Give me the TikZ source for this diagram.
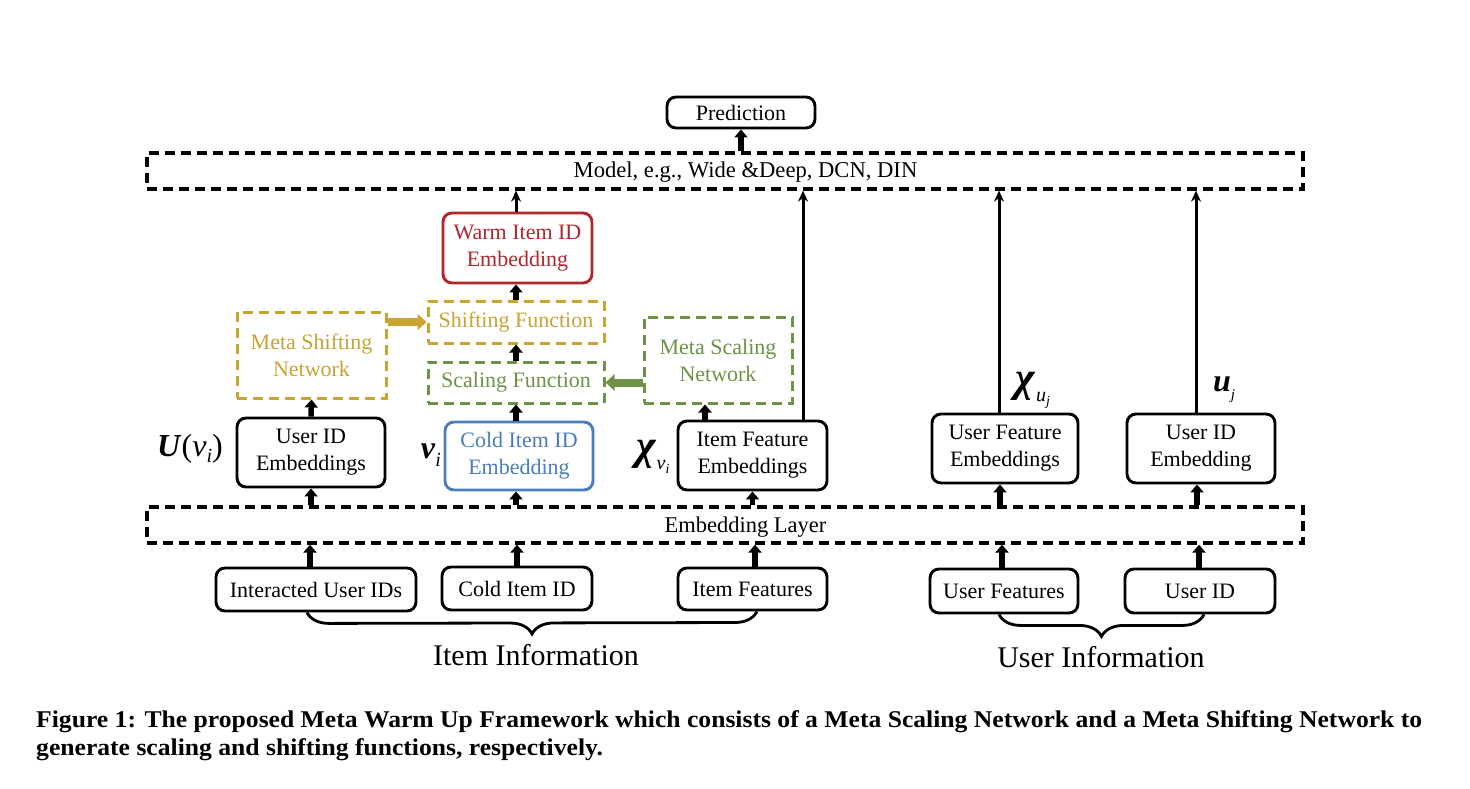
\documentclass[tikz,border=0pt]{standalone}
\usepackage{fontspec}
\setmainfont{Liberation Serif}
\usetikzlibrary{arrows.meta,decorations.pathreplacing,calc}
\definecolor{gold}{RGB}{201,163,52}
\definecolor{sgreen}{RGB}{110,146,72}
\definecolor{cblue}{RGB}{74,126,187}
\definecolor{wred}{RGB}{176,38,44}
\newsavebox\capboxA
\newlength\capwA
\newcommand\capfnt{\fontsize{24}{29}\selectfont\bfseries}
\newcommand\capone{Figure 1: The proposed Meta Warm Up Framework which consists of a Meta Scaling Network and a Meta Shifting Network to}
\newcommand\captwo{generate scaling and shifting functions, respectively.}
\AtBeginDocument{\sbox\capboxA{\capfnt\capone}\setlength\capwA{\wd\capboxA}\pgfmathsetmacro\capsx{1386/\capwA}}
\tikzset{
  box/.style={draw, line width=2.9pt, rounded corners=9pt, align=center, inner sep=0pt, font=\fontsize{22}{27}\selectfont},
  dbox/.style={draw, line width=3pt, dash pattern=on 10pt off 6pt, align=center, inner sep=0pt, font=\fontsize{22}{27}\selectfont},
  bigdash/.style={draw, line width=3.3pt, dash pattern=on 10pt off 6pt, inner sep=0pt},
  thk/.style={line width=5.5pt, -{Triangle[width=13pt,length=8pt]}},
  cthk/.style={line width=8pt, -{Triangle[width=16pt,length=9pt]}},
  thn/.style={line width=3pt, -{Stealth[width=10pt,length=11pt]}},
  lbl/.style={inner sep=0pt, font=\fontsize{32}{34}\selectfont},
  brc/.style={line width=2.8pt, decorate, decoration={brace, mirror, amplitude=22pt}},
}
\begin{document}
\begin{tikzpicture}[x=1pt,y=-1pt]
\useasboundingbox[fill=white] (0,0) rectangle (1470,788);

% top
\node[box, minimum width=148pt, minimum height=31pt] (pred) at (741,112.5) {Prediction};
\node[bigdash, minimum width=1156pt, minimum height=36pt] (model) at (725,171) {};
\node[inner sep=0pt, font=\fontsize{22.6}{27}\selectfont] (modeltxt) at (745.5,172) {Model, e.g., Wide \&Deep, DCN, DIN};

% centre column
\node[box, draw=wred, text=wred, minimum width=149pt, minimum height=70pt] (warm) at (517.5,248) {Warm Item ID\\Embedding};
\node[dbox, draw=gold, text=gold, minimum width=176pt, minimum height=42pt] (shiftf) at (516,322) {Shifting Function};
\node[dbox, draw=sgreen, text=sgreen, minimum width=176pt, minimum height=41pt] (scalef) at (516,382.5) {Scaling Function};
\node[box, draw=cblue, text=cblue, minimum width=148pt, minimum height=68pt] (cold) at (519,456) {Cold Item ID\\Embedding};

% meta networks
\node[dbox, draw=gold, text=gold, minimum width=149pt, minimum height=86pt] (msn) at (311.5,355) {Meta Shifting\\Network};
\node[dbox, draw=sgreen, text=sgreen, minimum width=148pt, minimum height=86pt] (mscale) at (718,360) {Meta Scaling\\Network};

% embeddings row
\node[box, minimum width=148pt, minimum height=69pt] (uide) at (311,452.5) {User ID\\Embeddings};
\node[box, minimum width=149pt, minimum height=69pt] (ife) at (752.5,455.5) {Item Feature\\Embeddings};
\node[box, minimum width=146pt, minimum height=69pt] (ufe) at (1005,448.5) {User Feature\\Embeddings};
\node[box, minimum width=148pt, minimum height=69pt] (uide2) at (1201,448.5) {User ID\\Embedding};

% embedding layer
\node[bigdash, minimum width=1156pt, minimum height=36pt] (emb) at (725,525) {};
\node[inner sep=0pt, font=\fontsize{22.5}{25}\selectfont] (embtxt) at (745.5,527) {Embedding Layer};

% inputs
\node[box, minimum width=200pt, minimum height=43pt] (iuid) at (316,589.5) {Interacted User IDs};
\node[box, minimum width=150pt, minimum height=43pt] (cid) at (517,588.5) {Cold Item ID};
\node[box, minimum width=149pt, minimum height=42pt] (ifeat) at (752.5,589) {Item Features};
\node[box, minimum width=148pt, minimum height=44pt] (ufeat) at (1004,591) {User Features};
\node[box, minimum width=150pt, minimum height=44pt] (uid) at (1200,591) {User ID};

% labels
\node[lbl] (lU) at (190,449) {\textbf{\textit{U}}(\textit{v}\raisebox{-6pt}{\fontsize{20}{20}\selectfont\textit{i}})};
\node[lbl] (lv) at (431,455) {\textbf{\textit{v}}\raisebox{-8pt}{\fontsize{20}{20}\selectfont\textit{i}}};
\node[lbl] (lxv) at (653,457) {\fontsize{42}{42}\selectfont\textbf{\textit{χ}}\raisebox{-10pt}{\fontsize{20}{20}\selectfont\textit{v}\raisebox{-4pt}{\fontsize{14}{14}\selectfont\textit{i}}}};
\node[lbl] (lxu) at (1033,390) {\fontsize{42}{42}\selectfont\textbf{\textit{χ}}\raisebox{-10pt}{\fontsize{20}{20}\selectfont\textit{u}\raisebox{-4pt}{\fontsize{14}{14}\selectfont\textit{j}}}};
\node[lbl] (lu) at (1224,390) {\textbf{\textit{u}}\raisebox{-8pt}{\fontsize{15}{15}\selectfont\textit{j}}};

% group labels
\node[inner sep=0pt, font=\fontsize{30}{34}\selectfont] (iinfo) at (536,655) {Item Information};
\node[inner sep=0pt, font=\fontsize{30}{34}\selectfont] (uinfo) at (1101,657) {User Information};

% braces
\draw[brc] ([xshift=-9pt]iuid.south) -- ([xshift=4.5pt]ifeat.south);
\draw[brc] ([xshift=-5pt]ufeat.south) -- ([xshift=4pt]uid.south);

% arrows inputs -> embedding layer
\draw[thk] ([xshift=-6pt]iuid.north) -- ([xshift=-6pt]iuid.north |- emb.south);
\draw[thk] (cid.north) -- (cid.north |- emb.south);
\draw[thk] ([xshift=2.5pt]ifeat.north) -- ([xshift=2.5pt]ifeat.north |- emb.south);
\draw[thk] ([xshift=-2pt]ufeat.north) -- ([xshift=-2pt]ufeat.north |- emb.south);
\draw[thk] ([xshift=-1pt]uid.north) -- ([xshift=-1pt]uid.north |- emb.south);

% embedding layer -> embeddings
\draw[thk] (uide.south |- emb.north) -- (uide.south);
\draw[thk] ([xshift=-3pt]cold.south |- emb.north) -- ([xshift=-3pt]cold.south);
\draw[thk] (ife.south |- emb.north) -- (ife.south);
\draw[thk] ([xshift=-5pt]ufe.south |- emb.north) -- ([xshift=-5pt]ufe.south);
\draw[thk] ([xshift=-4pt]uide2.south |- emb.north) -- ([xshift=-4pt]uide2.south);

% centre chain
\draw[thk] (uide.north) -- (msn.south);
\draw[thk] ([xshift=-3pt]cold.north) -- ([xshift=-3pt]cold.north |- scalef.south);
\draw[thk] (scalef.north) -- (shiftf.south);
\draw[thk] (shiftf.north) -- (shiftf.north |- warm.south);
\draw[thk] ([xshift=-47.5pt]ife.north) -- ([xshift=-47.5pt]ife.north |- mscale.south);
\draw[cthk, gold] (msn.east |- shiftf.west) -- (shiftf.west);
\draw[cthk, sgreen] (mscale.west |- scalef.east) -- (scalef.east);
\draw[thk] (pred.south |- model.north) -- (pred.south);

% long thin arrows to model
\draw[thn] ([xshift=-1.5pt]warm.north) -- ([xshift=-1.5pt]warm.north |- model.south);
\draw[thn] ([xshift=50.5pt]ife.north) -- ([xshift=50.5pt]ife.north |- model.south);
\draw[thn] ([xshift=-6pt]ufe.north) -- ([xshift=-6pt]ufe.north |- model.south);
\draw[thn] ([xshift=-5pt]uide2.north) -- ([xshift=-5pt]uide2.north |- model.south);

% caption
\node[anchor=base west, inner sep=0pt] (cap1) at (36,727) {\scalebox{\capsx}[1]{\capfnt\capone}};
\node[anchor=base west, inner sep=0pt] (cap2) at (36,755) {\scalebox{\capsx}[1]{\capfnt\captwo}};
\end{tikzpicture}
\end{document}
